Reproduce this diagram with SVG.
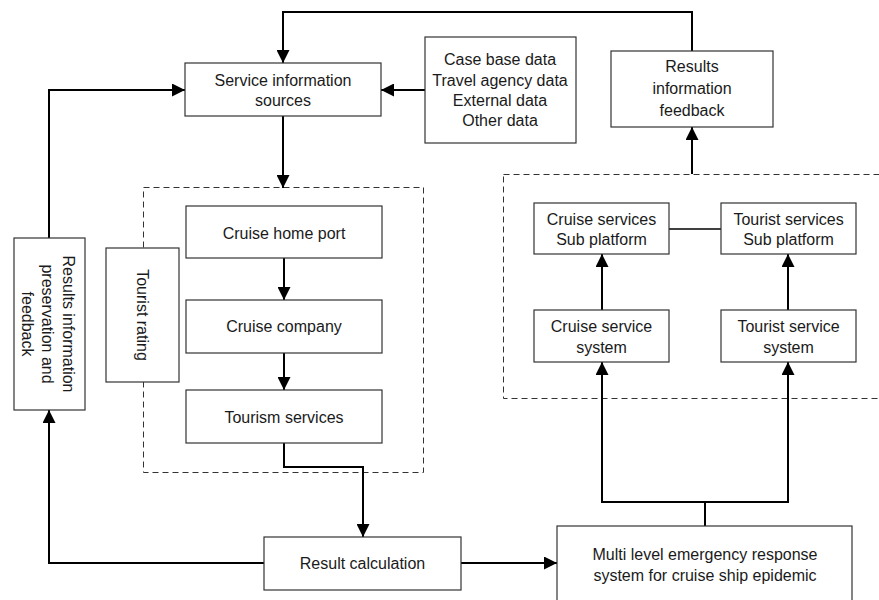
<svg xmlns="http://www.w3.org/2000/svg" width="879" height="600" viewBox="0 0 879 600">
  <defs>
    <marker id="arrow" viewBox="0 0 13 13" markerWidth="13" markerHeight="13" refX="13" refY="6.5" orient="auto" markerUnits="userSpaceOnUse">
      <path d="M0,0 L13,6.5 L0,13 z" fill="#000"/>
    </marker>
    <style>
      .box { fill: #fff; stroke: #333; stroke-width: 1.2; }
      .group { fill: none; stroke: #333; stroke-width: 1; stroke-dasharray: 6 4; }
      .wire { fill: none; stroke: #000; stroke-width: 2; }
      .arr { marker-end: url(#arrow); }
      text { font-family: "Liberation Sans", Arial, sans-serif; font-size: 16px; fill: #1a1a1a; text-anchor: middle; }
    </style>
  </defs>
  <rect width="879" height="600" fill="#fff"/>

  <!-- dashed groupings -->
  <g id="group-chain">
    <rect class="group" x="143.5" y="187.5" width="280" height="285"/>
  </g>
  <g id="group-platform">
    <rect class="group" x="503.5" y="174.5" width="380" height="224"/>
  </g>

  <!-- connectors -->
  <g id="connectors">
    <path class="wire arr" d="M692,127 L692,12 L283,12 L283,63"/>
    <path class="wire arr" d="M425,90 L381,90"/>
    <path class="wire arr" d="M49,238 L49,90 L185,90"/>
    <path class="wire arr" d="M283,116 L283,188"/>
    <path class="wire arr" d="M284,258 L284,300"/>
    <path class="wire arr" d="M284,353 L284,390"/>
    <path class="wire arr" d="M284,443 L284,467 L363,467 L363,537"/>
    <path class="wire arr" d="M264,563 L49,563 L49,410"/>
    <path class="wire arr" d="M461,563 L557,563"/>
    <path class="wire" d="M705,526 L705,502"/>
    <path class="wire" d="M601,502 L789,502"/>
    <path class="wire arr" d="M602,502 L602,362"/>
    <path class="wire arr" d="M788,502 L788,362"/>
    <path class="wire arr" d="M602,310 L602,254"/>
    <path class="wire arr" d="M788,310 L788,254"/>
    <path class="wire arr" d="M692,174 L692,127"/>
    <path class="wire" d="M669,229 L721,229" style="stroke-width:1.5"/>
  </g>

  <!-- nodes -->
  <g id="service-information-sources">
    <rect class="box" x="185" y="63" width="196" height="53"/>
    <text x="283" y="85.5">Service information</text>
    <text x="283" y="105.5">sources</text>
  </g>
  <g id="data-sources">
    <rect class="box" x="425" y="37" width="151" height="106"/>
    <text x="500" y="64.5">Case base data</text>
    <text x="500" y="85.5">Travel agency data</text>
    <text x="500" y="105.5">External data</text>
    <text x="500" y="125.5">Other data</text>
  </g>
  <g id="results-information-feedback">
    <rect class="box" x="611" y="51" width="162" height="76"/>
    <text x="692" y="71.5">Results</text>
    <text x="692" y="93.5">information</text>
    <text x="692" y="115.5">feedback</text>
  </g>
  <g id="results-preservation">
    <rect class="box" x="14" y="238" width="71" height="172"/>
    <g transform="translate(47,324) rotate(90)">
      <text x="0" y="-15.5">Results information</text>
      <text x="0" y="5.5">preservation and</text>
      <text x="0" y="25.5">feedback</text>
    </g>
  </g>
  <g id="tourist-rating">
    <rect class="box" x="106" y="248" width="73" height="134"/>
    <text transform="translate(142,315) rotate(90)" x="0" y="5.5">Tourist rating</text>
  </g>
  <g id="cruise-home-port">
    <rect class="box" x="186" y="206" width="196" height="52"/>
    <text x="284" y="238.5">Cruise home port</text>
  </g>
  <g id="cruise-company">
    <rect class="box" x="186" y="300" width="196" height="53"/>
    <text x="284" y="331.5">Cruise company</text>
  </g>
  <g id="tourism-services">
    <rect class="box" x="186" y="390" width="196" height="53"/>
    <text x="284" y="422.5">Tourism services</text>
  </g>
  <g id="result-calculation">
    <rect class="box" x="264" y="537" width="197" height="53"/>
    <text x="362.5" y="568.5">Result calculation</text>
  </g>
  <g id="emergency-response-system">
    <rect class="box" x="557" y="526" width="295" height="80"/>
    <text x="705" y="560">Multi level emergency response</text>
    <text x="705" y="581">system for cruise ship epidemic</text>
  </g>
  <g id="cruise-services-sub-platform">
    <rect class="box" x="534" y="203" width="135" height="51"/>
    <text x="601.5" y="224.5">Cruise services</text>
    <text x="601.5" y="244.5">Sub platform</text>
  </g>
  <g id="tourist-services-sub-platform">
    <rect class="box" x="721" y="203" width="135" height="51"/>
    <text x="788.5" y="224.5">Tourist services</text>
    <text x="788.5" y="244.5">Sub platform</text>
  </g>
  <g id="cruise-service-system">
    <rect class="box" x="534" y="310" width="135" height="52"/>
    <text x="601.5" y="331.5">Cruise service</text>
    <text x="601.5" y="352.5">system</text>
  </g>
  <g id="tourist-service-system">
    <rect class="box" x="721" y="310" width="135" height="52"/>
    <text x="788.5" y="331.5">Tourist service</text>
    <text x="788.5" y="352.5">system</text>
  </g>
</svg>
